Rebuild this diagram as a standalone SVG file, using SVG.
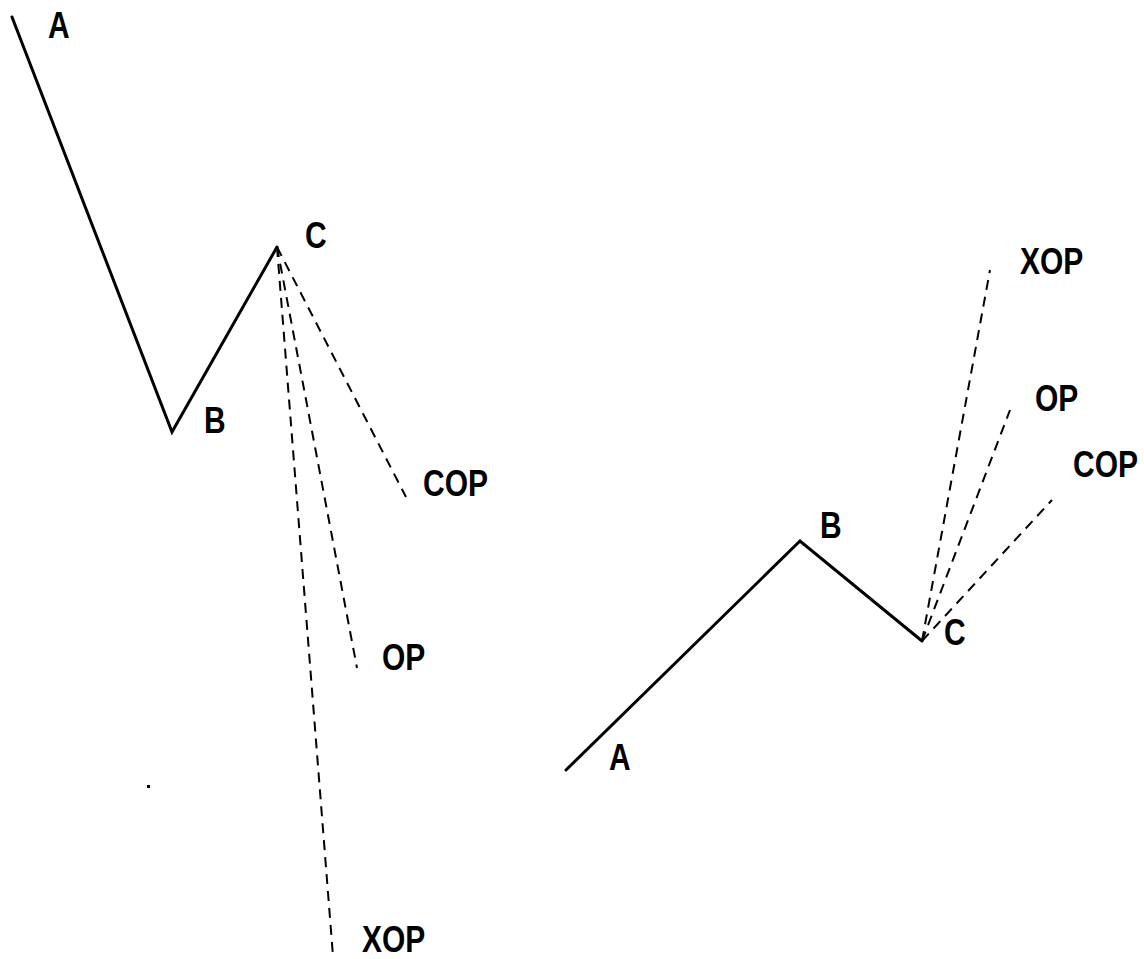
<svg xmlns="http://www.w3.org/2000/svg" width="1144" height="959" viewBox="0 0 1144 959">
<style>
.s{fill:none;stroke:#000;stroke-width:3;stroke-linejoin:miter;stroke-linecap:round}
.d{fill:none;stroke:#000;stroke-width:2;stroke-dasharray:10 7}
.t{font-family:"Liberation Sans",Arial,sans-serif;font-weight:bold;font-size:30px;fill:#000}
</style>
<rect width="1144" height="959" fill="#fff"/>
<g id="connectors">
<polyline class="s" points="12,17 172,432 277,247"/>
<line class="d" x1="277" y1="247" x2="406" y2="497"/>
<line class="d" x1="277" y1="247" x2="357" y2="668"/>
<line class="d" x1="277" y1="247" x2="333" y2="956"/>
<polyline class="s" points="566,770 800,541 922,641"/>
<line class="d" x1="922" y1="641" x2="990" y2="270"/>
<line class="d" x1="922" y1="641" x2="1010" y2="410"/>
<line class="d" x1="922" y1="641" x2="1052" y2="500"/>
<rect x="147" y="785" width="3" height="3" fill="#000"/>
</g>
<g id="left-A"><text class="t" transform="translate(48,38) scale(1,1.2)">A</text></g>
<g id="left-B"><text class="t" transform="translate(204,433) scale(1,1.2)">B</text></g>
<g id="left-C"><text class="t" transform="translate(305,248) scale(1,1.2)">C</text></g>
<g id="left-COP"><text class="t" transform="translate(423,496) scale(1,1.2)">COP</text></g>
<g id="left-OP"><text class="t" transform="translate(382,670) scale(1,1.2)">OP</text></g>
<g id="left-XOP"><text class="t" transform="translate(362,952) scale(1,1.2)">XOP</text></g>
<g id="right-A"><text class="t" transform="translate(609,770) scale(1,1.2)">A</text></g>
<g id="right-B"><text class="t" transform="translate(820,538) scale(1,1.2)">B</text></g>
<g id="right-C"><text class="t" transform="translate(944,645) scale(1,1.2)">C</text></g>
<g id="right-XOP"><text class="t" transform="translate(1020,274) scale(1,1.2)">XOP</text></g>
<g id="right-OP"><text class="t" transform="translate(1035,411) scale(1,1.2)">OP</text></g>
<g id="right-COP"><text class="t" transform="translate(1073,477) scale(1,1.2)">COP</text></g>
</svg>
